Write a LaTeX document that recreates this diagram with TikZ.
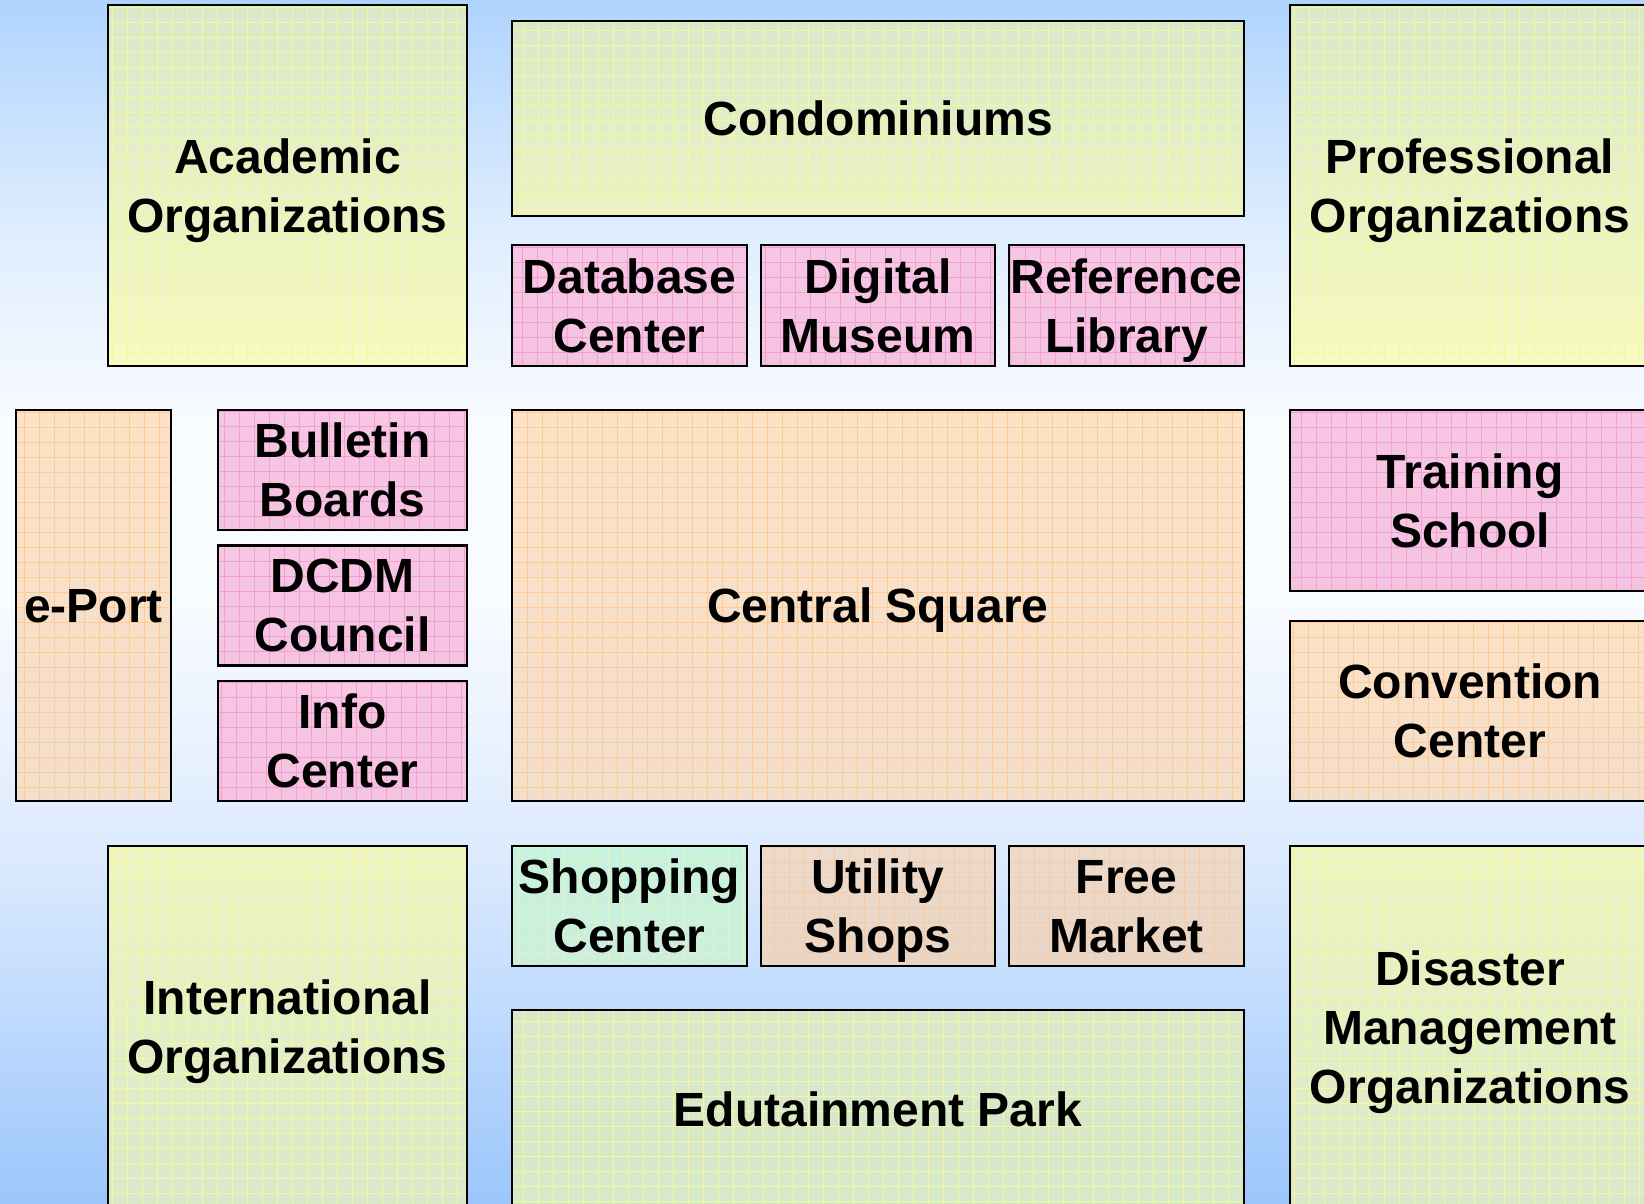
\documentclass[tikz,border=0pt]{standalone}
\usepackage{fontspec}
\setmainfont{Liberation Sans}
\usetikzlibrary{positioning}
\usepackage{xcolor}
\definecolor{ink}     {HTML}{000000}
\definecolor{skytop}  {HTML}{B0D4FE}
\definecolor{skyhi}   {HTML}{E0EEFE}
\definecolor{skymid}  {HTML}{F8FBFF}
\definecolor{skylo}   {HTML}{DCEAFE}
\definecolor{skydeep} {HTML}{C2DCFE}
\definecolor{skybot}  {HTML}{9CC6FB}
\definecolor{limegreen}{HTML}{D8E8C9}
\definecolor{limeyel} {HTML}{F6FAC2}
\definecolor{limegrid}{HTML}{F4F79E}
\definecolor{pinktop} {HTML}{F7C6E5}
\definecolor{pinkbot} {HTML}{F3C3E1}
\definecolor{pinkgrid}{HTML}{F2A0D0}
\definecolor{peachtop}{HTML}{FCE2C6}
\definecolor{peachbot}{HTML}{F3DECC}
\definecolor{peachgrid}{HTML}{FDCB93}
\definecolor{minttop} {HTML}{C6F2E0}
\definecolor{mintbot} {HTML}{CDEEDC}
\definecolor{mintgrid}{HTML}{DDF5C6}
\definecolor{tantop}  {HTML}{EEDACA}
\definecolor{tanbot}  {HTML}{E8D5C5}
\definecolor{tangrid} {HTML}{F4CDA4}
% sky: the picture spans 25bp (bottom) to 75bp (top)
\pgfdeclareverticalshading{sky}{100bp}{
  color(0bp)=(skybot); color(25bp)=(skybot); color(33.5bp)=(skydeep);
  color(39.5bp)=(skylo); color(50bp)=(skymid); color(57.5bp)=(skymid);
  color(65bp)=(skyhi); color(75bp)=(skytop); color(100bp)=(skytop)}
\tikzset{
  zone/.style   = {draw=ink, line width=1.2pt, inner sep=0pt, outer sep=0pt,
                   align=center, text=ink, text depth=0pt,
                   font=\bfseries\fontsize{24}{29.5}\selectfont},
  tiles/.style  = {path picture={\draw[#1, line width=0.5pt]
                   (path picture bounding box.south west) grid[step=7.5pt]
                   (path picture bounding box.north east);}},
  wh/.style 2 args = {minimum width=#1, minimum height=#2},
  lime/.style   = {zone, tiles=limegrid, top color=limegreen, bottom color=limeyel},
  limeup/.style = {zone, tiles=limegrid, top color=limeyel!70!limegreen, bottom color=limegreen},
  pink/.style   = {zone, tiles=pinkgrid, top color=pinktop, bottom color=pinkbot},
  peach/.style  = {zone, tiles=peachgrid, top color=peachtop, bottom color=peachbot},
  mint/.style   = {zone, tiles=mintgrid, top color=minttop, bottom color=mintbot},
  tan/.style    = {zone, tiles=tangrid, top color=tantop, bottom color=tanbot},
}

\begin{document}
\begin{tikzpicture}[x=0.5pt, y=-0.5pt]

  \useasboundingbox (0,0) rectangle (1644,1204);
  \clip (0,0) rectangle (1644,1204);
  \shade[shading=sky] (0,0) rectangle (1644,1204);

  % top row
  \node[lime, wh={179.5pt}{180.5pt}] (acad) at (287.5,185.5)
    {Academic\\Organizations};
  \node[lime, top color=limegreen, bottom color=limeyel!60!limegreen,
        wh={366pt}{97.5pt}] (condo) at (878,118.5) {Condominiums};
  \node[pink, wh={117.5pt}{60.5pt}] (dbase) at (629.5,305.5)
    {Database\\Center};
  \node[pink, wh={117pt}{60.5pt}, right=7pt of dbase] (museum)
    {Digital\\Museum};
  \node[pink, wh={117.5pt}{60.5pt}, right=7pt of museum] (reflib)
    {Reference\\Library};
  \node[lime, wh={180pt}{180.5pt}] (prof) at (1470,185.5)
    {Professional\\Organizations};

  % middle row
  \node[peach, wh={77.5pt}{195.5pt}, text depth=-3pt] (eport) at (93.5,605.5)
    {e-Port};
  \node[pink, wh={124.5pt}{60pt}] (board) at (342.5,470)
    {Bulletin\\Boards};
  \node[pink, wh={124.5pt}{60pt}, below=7.75pt of board] (council)
    {DCDM\\Council};
  \node[pink, wh={124.5pt}{60pt}, below=7.75pt of council] (info)
    {Info\\Center};
  \node[peach, wh={366pt}{195.5pt}, text depth=-2.3pt] (square) at (878,605.5)
    {Central Square};
  \node[pink, wh={180pt}{90.5pt}] (school) at (1470,500.5)
    {Training\\School};
  \node[peach, wh={180pt}{90pt}] (conv) at (1470,711)
    {Convention\\Center};

  % bottom row
  \node[limeup, wh={179.5pt}{181pt}] (intl) at (287.5,1027)
    {International\\Organizations};
  \node[mint, wh={117.5pt}{60pt}] (shop) at (629.5,906)
    {Shopping\\Center};
  \node[tan, wh={117pt}{60pt}, right=7pt of shop] (utility)
    {Utility\\Shops};
  \node[tan, wh={117.5pt}{60pt}, right=7pt of utility] (market)
    {Free\\Market};
  \node[limeup, top color=limegreen, bottom color=limegreen!90!mintbot,
        wh={366pt}{99pt}] (park) at (878,1109) {Edutainment Park};
  \node[limeup, wh={180pt}{181pt}] (disaster) at (1470,1027)
    {Disaster\\Management\\Organizations};

\end{tikzpicture}
\end{document}
